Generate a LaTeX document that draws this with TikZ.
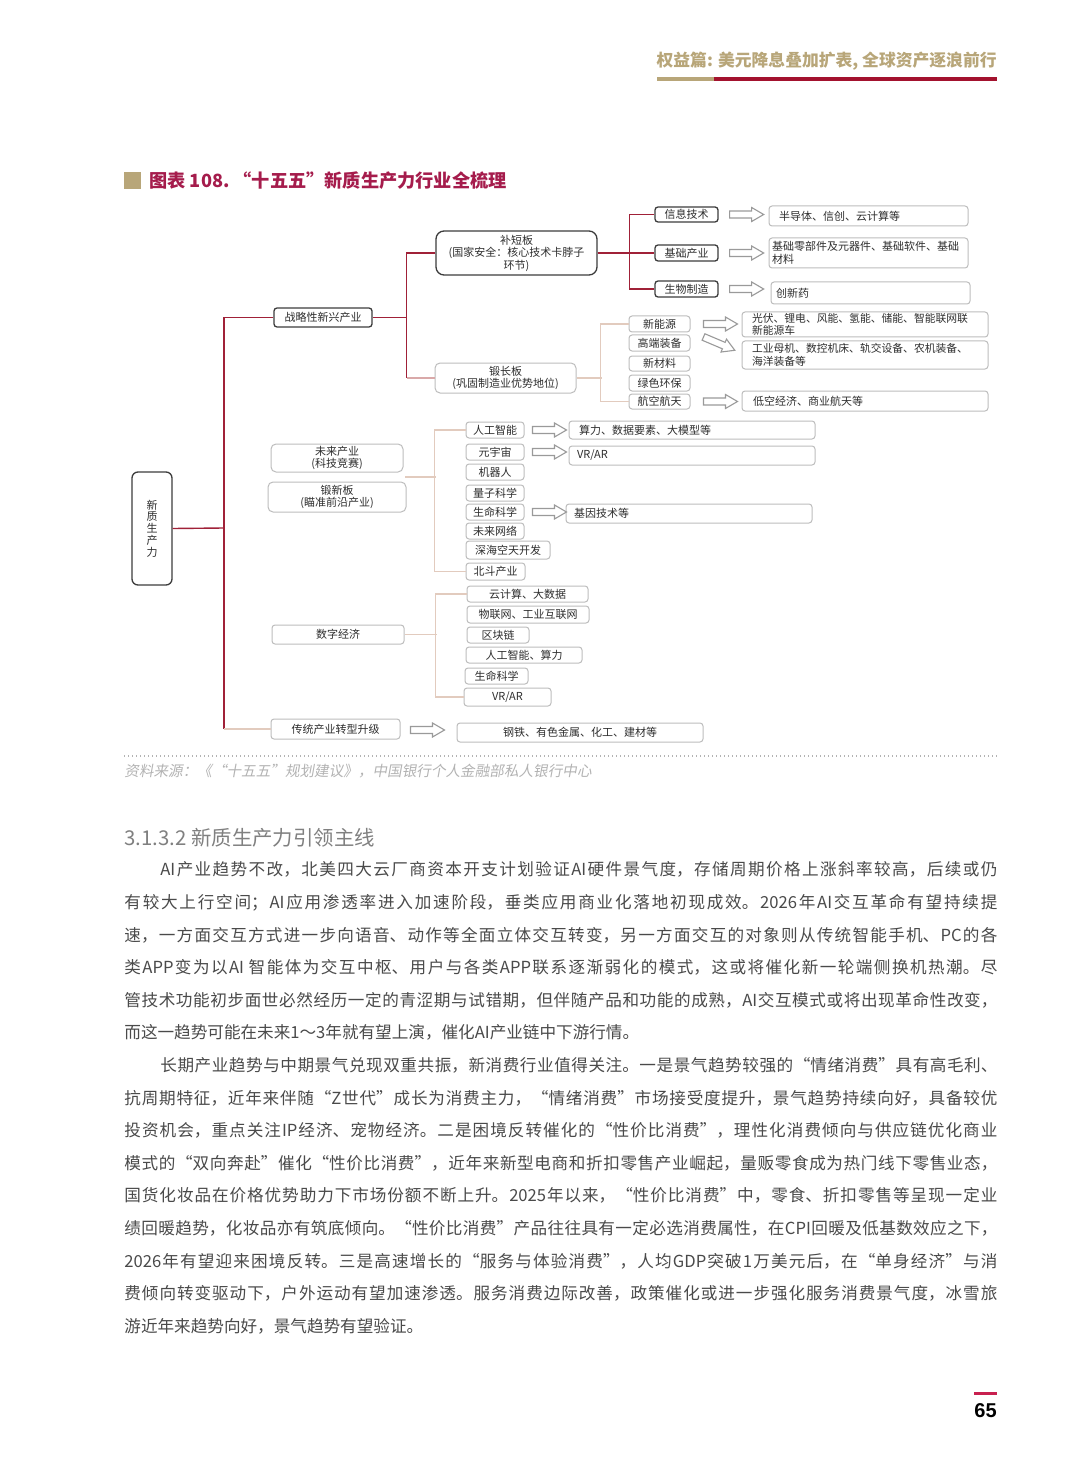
\documentclass[tikz,border=0pt]{standalone}
\usepackage{fontspec}
\setmainfont{Noto Sans CJK SC}
\newfontfamily\cjkit{Noto Sans CJK SC}[FakeSlant=0.18]
\newfontfamily\numfont{Liberation Sans}
\usetikzlibrary{calc}
\XeTeXlinebreaklocale "zh"
\XeTeXlinebreakskip=0pt plus 1.5pt minus 0.1pt
\definecolor{khaki}{HTML}{B8A679}
\definecolor{hdrred}{HTML}{A3122E}
\definecolor{ttlred}{HTML}{A51C4C}
\definecolor{lnred}{HTML}{A02138}
\definecolor{lnlight}{HTML}{E2CBBE}
\definecolor{lnpink}{HTML}{D9A9A9}
\definecolor{boxdark}{HTML}{3C3C3C}
\definecolor{boxlight}{HTML}{BDBDBD}
\definecolor{txtdark}{HTML}{2E2E2E}
\definecolor{bodygray}{HTML}{4A4A4A}
\definecolor{headgray}{HTML}{808080}
\definecolor{srcgray}{HTML}{B3B3B3}
\definecolor{pgred}{HTML}{C8204F}
\definecolor{arrgray}{HTML}{9A9A9A}
\newcommand\fs{\fontsize{5.5pt}{6.25pt}\selectfont}
\newcommand\bx[7]{\node[#6,minimum width={(#4-#2)*0.5pt},minimum height={(#5-#3)*0.5pt}] (#1) at ({(#2+#4)/2},{(#3+#5)/2}) {#7};}
\newcommand\lbx[7]{\pgfmathsetmacro\tw{(#4-#2-2*#6)*0.5}%
  \node[lbox,text width=\tw pt,inner xsep={#6*0.5pt},minimum height={(#5-#3)*0.5pt},align=left] (#1) at ({(#2+#4)/2},{(#3+#5)/2}) {#7};}
\tikzset{
  dbox/.style={draw=boxdark,line width=0.65pt,rounded corners=1.5pt,fill=white,inner sep=0pt,font=\fs,text=txtdark,align=center},
  lbox/.style={draw=boxlight,line width=0.5pt,rounded corners=1.5pt,fill=white,inner sep=0pt,font=\fs,text=txtdark,align=center},
  redln/.style={draw=lnred,line width=0.7pt},
  lightln/.style={draw=lnlight,line width=0.7pt},
  pinkln/.style={draw=lnpink,line width=0.7pt},
  harr/.style={draw=arrgray,line width=0.55pt,fill=white,line join=miter},
  harrow/.pic={\draw[harr] (0,-3.5) -- (22,-3.5) -- (22,-7) -- (34,0) -- (22,7) -- (22,3.5) -- (0,3.5) -- cycle;}
}
\begin{document}
\begin{tikzpicture}[x=0.5pt,y=-0.5pt]
\useasboundingbox (0,0) rectangle (1080,1465);
\fill[white] (0,0) rectangle (1080,1465);
% header
\node[anchor=east,inner sep=0pt,font=\fontsize{8.4pt}{8.4pt}\selectfont\bfseries,text=khaki] (hdr) at (997,61) {权益篇: 美元降息叠加扩表, 全球资产逐浪前行};
\fill[khaki] (657,77) rectangle (714,81);
\fill[hdrred] (714,77) rectangle (997,81);
% title
\fill[khaki] (124,172) rectangle (141,189);
\node[anchor=west,inner sep=0pt,font=\fontsize{9.1pt}{9.1pt}\selectfont\bfseries,text=ttlred] (ttl) at (149,181) {图表 108.\ “十五五”新质生产力行业全梳理};
% ---------------- diagram boxes
\bx{root}{132}{472}{172}{585}{dbox,rounded corners=3pt,font=\fontsize{5.5pt}{5.9pt}\selectfont}{新\\质\\生\\产\\力}
\bx{zl}{274}{308}{372}{327}{dbox}{战略性新兴产业}
\bx{bdb}{436}{231}{597}{275}{dbox,rounded corners=4pt}{补短板\\(国家安全：核心技术卡脖子\\环节)}
\bx{xxjs}{655}{207}{718}{222}{dbox}{信息技术}
\bx{jccy}{655}{245}{718}{261}{dbox}{基础产业}
\bx{swzz}{655}{281}{718}{297}{dbox}{生物制造}
\lbx{r1}{769}{206}{968}{226}{10}{\mbox{半导体、信创、云计算等}}
\lbx{r2}{769}{238}{968}{268}{3}{\mbox{基础零部件及元器件、基础软件、基础}\\\mbox{材料}}
\lbx{r3}{771}{282}{970}{304}{5}{\mbox{创新药}}
\bx{dcb}{435}{363}{576}{393}{lbox,rounded corners=2.5pt}{锻长板\\(巩固制造业优势地位)}
\bx{s1}{629}{316}{690}{332}{lbox}{新能源}
\bx{s2}{629}{335}{690}{351}{lbox}{高端装备}
\bx{s3}{629}{356}{690}{371}{lbox}{新材料}
\bx{s4}{629}{375}{690}{391}{lbox}{绿色环保}
\bx{s5}{629}{394}{690}{409}{lbox}{航空航天}
\lbx{r4}{742}{312}{988}{337}{10}{\fontsize{5.4pt}{5.6pt}\selectfont\mbox{光伏、锂电、风能、氢能、储能、智能联网联}\\\mbox{新能源车}}
\lbx{r5}{742}{341}{988}{369}{10}{\fontsize{5.4pt}{6.6pt}\selectfont\mbox{工业母机、数控机床、轨交设备、农机装备、}\\\mbox{海洋装备等}}
\lbx{r6}{742}{391}{988}{411}{11}{\mbox{低空经济、商业航天等}}
\bx{wl}{271}{444}{403}{472}{lbox,rounded corners=2.5pt}{未来产业\\(科技竞赛)}
\bx{dxb}{268}{482}{406}{512}{lbox,rounded corners=2.5pt}{锻新板\\(瞄准前沿产业)}
\bx{f1}{466}{422}{524}{438}{lbox}{人工智能}
\bx{f2}{466}{444}{524}{460}{lbox}{元宇宙}
\bx{f3}{466}{464}{524}{480}{lbox}{机器人}
\bx{f4}{466}{485}{524}{501}{lbox}{量子科学}
\bx{f5}{466}{504}{524}{520}{lbox}{生命科学}
\bx{f6}{466}{523}{524}{539}{lbox}{未来网络}
\bx{f7}{466}{541}{550}{559}{lbox}{深海空天开发}
\bx{f8}{466}{563}{525}{580}{lbox}{北斗产业}
\lbx{r7}{569}{421}{815}{439}{10}{\mbox{算力、数据要素、大模型等}}
\lbx{r8}{569}{446}{815}{465}{8}{\mbox{VR/AR}}
\lbx{r9}{566}{504}{812}{523}{8}{\mbox{基因技术等}}
\bx{sz}{272}{625}{404}{644}{lbox}{数字经济}
\bx{d1}{467}{586}{588}{602}{lbox}{云计算、大数据}
\bx{d2}{467}{606}{589}{623}{lbox}{物联网、工业互联网}
\bx{d3}{467}{627}{529}{643}{lbox}{区块链}
\bx{d4}{466}{647}{582}{663}{lbox}{人工智能、算力}
\bx{d5}{465}{668}{528}{684}{lbox}{生命科学}
\bx{d6}{464}{688}{551}{706}{lbox}{VR/AR}
\bx{ct}{271}{719}{400}{739}{lbox}{传统产业转型升级}
\bx{r10}{457}{723}{703}{742}{lbox}{钢铁、有色金属、化工、建材等}
% ---------------- connectors
\coordinate (tk) at (224,528);
\draw[redln] (root.east) -- (tk);
\draw[redln] (zl.west) -| (tk);
\draw[redln] (tk) -- (tk |- ct.west);
\draw[lightln] (tk |- ct.west) -- (ct.west);
\draw[redln] (zl.east) -- ++(34,0) coordinate (j1);
\draw[redln] (bdb.west) -| (j1);
\draw[redln] (j1) -- (j1 |- dcb.west);
\draw[pinkln] (j1 |- dcb.west) -- (dcb.west);
\draw[redln] (bdb.east) -- (jccy.west);
\draw[redln] (xxjs.west) -- ++(-25,0) |- (swzz.west);
\draw[lightln] (dcb.east) -- ++(25,0);
\draw[lightln] (s1.west) -- ++(-28,0) |- (s5.west);
\coordinate (wj) at ($(wl.south east)!0.5!(dxb.north east)$);
\draw[lightln] (wj) -- ++(30.5,0);
\draw[lightln] (f1.west) -- ++(-31,0) |- (f8.west);
\draw[lightln] (sz.east) -- ++(32,0);
\draw[lightln] (d1.west) -- ++(-31,0) |- (d6.west);
% hollow arrows
\pic at ($(xxjs.east)+(11,0)$) {harrow};
\pic at ($(jccy.east)+(11,0)$) {harrow};
\pic at ($(swzz.east)+(11,0)$) {harrow};
\pic at ($(s1.east)+(13,0)$) {harrow};
\pic[rotate=-23] at ($(s2.east)+(13,-6)$) {harrow};
\pic at ($(s5.east)+(13,0)$) {harrow};
\pic at ($(f1.east)+(8,0)$) {harrow};
\pic at ($(f2.east)+(8,0)$) {harrow};
\pic at ($(f5.east)+(8,0)$) {harrow};
\pic at ($(ct.east)+(10,1)$) {harrow};
% source
\draw[srcgray,line width=0.6pt,dash pattern=on 0.6pt off 1.4pt] (124,756) -- (997,756);
\node[anchor=west,inner sep=0pt,font=\cjkit\fontsize{7.3pt}{7.3pt}\selectfont,text=srcgray] (src) at (124,771) {资料来源：《“十五五”规划建议》，中国银行个人金融部私人银行中心};
% section heading
\node[anchor=west,inner sep=0pt,font=\fontsize{10.2pt}{10.2pt}\selectfont,text=headgray] (sec) at (124,838) {3.1.3.2 新质生产力引领主线};
% body
\node[anchor=north west,inner sep=0pt,text width=436.5pt,align=justify,font=\fontsize{8.3pt}{16.3pt}\selectfont,text=bodygray] (body) at (124,861.5) {%
\hspace*{18pt}AI产业趋势不改，北美四大云厂商资本开支计划验证AI硬件景气度，存储周期价格上涨斜率较高，后续或仍\linebreak%
有较大上行空间；AI应用渗透率进入加速阶段，垂类应用商业化落地初现成效。2026年AI交互革命有望持续提\linebreak%
速，一方面交互方式进一步向语音、动作等全面立体交互转变，另一方面交互的对象则从传统智能手机、PC的各\linebreak%
类APP变为以AI 智能体为交互中枢、用户与各类APP联系逐渐弱化的模式，这或将催化新一轮端侧换机热潮。尽\linebreak%
管技术功能初步面世必然经历一定的青涩期与试错期，但伴随产品和功能的成熟，AI交互模式或将出现革命性改变，\linebreak%
而这一趋势可能在未来1～3年就有望上演，催化AI产业链中下游行情。\par%
\hspace*{18pt}长期产业趋势与中期景气兑现双重共振，新消费行业值得关注。一是景气趋势较强的“情绪消费”具有高毛利、\linebreak%
抗周期特征，近年来伴随“Z世代”成长为消费主力，“情绪消费”市场接受度提升，景气趋势持续向好，具备较优\linebreak%
投资机会，重点关注IP经济、宠物经济。二是困境反转催化的“性价比消费”，理性化消费倾向与供应链优化商业\linebreak%
模式的“双向奔赴”催化“性价比消费”，近年来新型电商和折扣零售产业崛起，量贩零食成为热门线下零售业态，\linebreak%
国货化妆品在价格优势助力下市场份额不断上升。2025年以来，“性价比消费”中，零食、折扣零售等呈现一定业\linebreak%
绩回暖趋势，化妆品亦有筑底倾向。“性价比消费”产品往往具有一定必选消费属性，在CPI回暖及低基数效应之下，\linebreak%
2026年有望迎来困境反转。三是高速增长的“服务与体验消费”，人均GDP突破1万美元后，在“单身经济”与消\linebreak%
费倾向转变驱动下，户外运动有望加速渗透。服务消费边际改善，政策催化或进一步强化服务消费景气度，冰雪旅\linebreak%
游近年来趋势向好，景气趋势有望验证。};
% page number
\fill[pgred] (974,1392) rectangle (997,1395);
\node[inner sep=0pt,font=\numfont\bfseries\fontsize{10pt}{10pt}\selectfont] (pg) at (985.5,1411) {65};
\end{tikzpicture}
\end{document}
